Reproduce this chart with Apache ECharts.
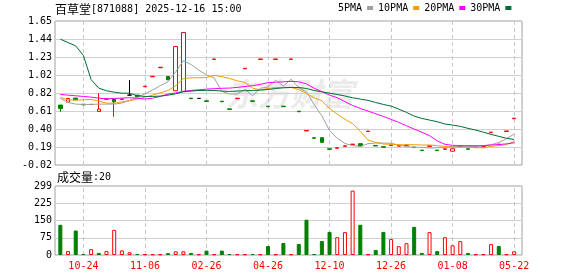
<!DOCTYPE html>
<html><head><meta charset="utf-8">
<script src="https://cdn.jsdelivr.net/npm/echarts/dist/echarts.min.js"></script>
<style>html,body{margin:0;padding:0;background:#fff}#c{width:578px;height:276px}</style>
</head><body><div id="c"></div>
<script>
const stockName = '百草堂';
const stockInfo = '[871088] 2025-12-16 15:00';
const volTitleName = '成交量';
const volTitleValue = ':20';
const watermark = '东方财富';

const xTickIndex = [3, 11, 19, 27, 35, 43, 51, 59];
const xTickLabels = ['10-24', '11-06', '02-26', '04-26', '12-10', '12-26', '01-08', '05-22'];
const priceTickLabels = ['-0.02', '0.19', '0.40', '0.61', '0.82', '1.02', '1.23', '1.44', '1.65'];
const volTickLabels = ['0', '75', '150', '225', '299'];
const maNames = ['5PMA', '10PMA', '20PMA', '30PMA'];

const opens = [0.675,0.709,0.756,0.684,0.682,0.601,0.742,0.744,0.740,0.790,
  0.790,0.888,1.003,1.108,1.006,0.841,0.833,0.755,0.752,0.724,
  1.204,0.720,0.631,0.749,1.096,0.724,1.204,0.662,1.204,0.662,
  1.204,0.604,0.375,0.296,0.297,0.168,0.174,0.197,0.216,0.227,
  0.367,0.207,0.192,0.205,0.198,0.205,0.188,0.153,0.196,0.153,
  0.162,0.140,0.196,0.168,0.190,0.190,0.355,0.222,0.369,0.517];
const closes = [0.636,0.752,0.736,0.678,0.682,0.628,0.748,0.713,0.746,0.790,
  0.771,0.894,1.009,1.114,0.968,1.354,1.516,0.749,0.752,0.718,
  1.210,0.714,0.625,0.755,1.102,0.718,1.210,0.656,1.210,0.656,
  1.210,0.598,0.381,0.290,0.243,0.162,0.180,0.203,0.222,0.200,
  0.373,0.201,0.186,0.211,0.204,0.211,0.182,0.147,0.202,0.147,
  0.168,0.168,0.196,0.162,0.194,0.194,0.361,0.216,0.375,0.523];
const lows = [0.597,0.709,0.736,0.678,0.682,0.601,0.742,0.540,0.740,0.790,
  0.771,0.888,1.003,1.108,0.968,0.841,0.833,0.749,0.752,0.718,
  1.204,0.714,0.625,0.749,1.096,0.718,1.204,0.656,1.204,0.656,
  1.204,0.598,0.375,0.290,0.243,0.162,0.174,0.197,0.216,0.200,
  0.367,0.201,0.186,0.205,0.198,0.205,0.182,0.147,0.196,0.147,
  0.162,0.140,0.196,0.162,0.190,0.190,0.355,0.216,0.369,0.517];
const highs = [0.675,0.752,0.756,0.684,0.682,0.813,0.748,0.744,0.746,0.964,
  0.790,0.894,1.009,1.114,1.006,1.354,1.516,0.755,0.752,0.724,
  1.210,0.720,0.631,0.755,1.102,0.724,1.210,0.662,1.210,0.662,
  1.210,0.604,0.381,0.296,0.297,0.168,0.180,0.203,0.222,0.227,
  0.373,0.207,0.192,0.211,0.204,0.211,0.188,0.153,0.202,0.153,
  0.168,0.168,0.196,0.168,0.194,0.194,0.361,0.222,0.375,0.523];

const volumes = [131,17,106,4,25,9,17,109,20,12,
  4,3,3,3,8,16,16,9,3,19,
  3,19,4,3,3,4,3,39,3,52,
  3,48,153,4,61,100,77,99,279,131,
  3,22,100,69,38,51,122,9,99,17,
  77,42,60,9,3,3,47,39,3,16];
// 1 = rising (red hollow), 0 = falling (green solid)
const volumeUp = [0,1,0,0,1,0,1,1,1,1,
  0,1,1,1,0,1,1,0,1,0,
  1,0,0,1,1,0,1,0,1,0,
  1,0,0,0,0,0,1,1,1,0,
  1,0,0,1,1,1,0,0,1,0,
  1,1,1,0,1,1,1,0,1,1];

const ma5 = [0.752,0.705,0.686,0.682,0.682,0.686,0.686,0.686,0.698,0.730,
  0.765,0.805,0.850,0.900,0.945,1.060,1.190,1.145,1.080,1.025,
  0.990,0.835,0.803,0.803,0.860,0.783,0.870,0.885,0.965,0.895,
  0.975,0.875,0.830,0.680,0.550,0.380,0.290,0.230,0.205,0.196,
  0.227,0.235,0.235,0.231,0.212,0.192,0.185,0.185,0.177,0.181,
  0.185,0.196,0.196,0.196,0.192,0.204,0.215,0.240,0.285,0.339];
const ma10 = [0.763,0.736,0.732,0.736,0.740,0.721,0.698,0.694,0.713,0.725,
  0.744,0.767,0.790,0.817,0.844,0.900,0.983,0.991,0.991,0.995,
  1.020,1.005,0.983,0.956,0.937,0.871,0.852,0.867,0.879,0.879,
  0.879,0.856,0.810,0.760,0.725,0.636,0.570,0.510,0.460,0.370,
  0.270,0.242,0.223,0.219,0.215,0.215,0.215,0.212,0.212,0.204,
  0.196,0.185,0.185,0.185,0.180,0.180,0.196,0.204,0.218,0.252];
const ma20 = [0.798,0.790,0.783,0.775,0.767,0.755,0.748,0.752,0.756,0.760,
  0.755,0.745,0.755,0.775,0.802,0.815,0.835,0.845,0.852,0.860,
  0.865,0.870,0.872,0.880,0.890,0.900,0.915,0.935,0.940,0.945,
  0.950,0.945,0.920,0.870,0.830,0.790,0.760,0.715,0.670,0.636,
  0.605,0.574,0.543,0.509,0.474,0.435,0.397,0.360,0.320,0.260,
  0.220,0.208,0.205,0.204,0.204,0.204,0.212,0.217,0.225,0.238];
const ma30 = [1.439,1.400,1.361,1.250,0.970,0.871,0.841,0.825,0.813,0.813,
  0.783,0.775,0.775,0.779,0.790,0.806,0.829,0.837,0.844,0.846,
  0.844,0.837,0.833,0.837,0.841,0.844,0.848,0.856,0.867,0.875,
  0.879,0.879,0.867,0.844,0.829,0.813,0.798,0.780,0.760,0.744,
  0.729,0.705,0.682,0.663,0.628,0.590,0.547,0.520,0.501,0.482,
  0.455,0.443,0.428,0.405,0.385,0.360,0.335,0.312,0.290,0.276];

const priceMin = -0.02, priceMax = 1.65, priceStep = (priceMax - priceMin) / 8;
const volMax = 299, volStep = volMax / 4;

const categories = opens.map((_, i) => {
  const k = xTickIndex.indexOf(i);
  return k >= 0 ? xTickLabels[k] : 'd' + i;
});

const mono = '"DejaVu Sans Mono", "Liberation Mono", monospace';
const cjk = '"Noto Sans CJK SC", sans-serif';
const maColors = ['#a0a0a0', '#f0a000', '#ff00ff', '#006e30'];
const maData = [ma5, ma10, ma20, ma30];

const frameLeft = 55, frameWidth = 467;
const dataLeft = 56.5, dataWidth = 461.5;
const mainTop = 21, mainHeight = 144;
const volTop = 186, volHeight = 69;

const vLines = {
  silent: true, symbol: ['none', 'none'], z: 1,
  label: { show: false }, emphasis: { disabled: true },
  lineStyle: { type: [4, 3], color: '#c8c8c8', width: 1 },
  data: xTickIndex.map(i => ({ xAxis: categories[i] }))
};

const chart = echarts.init(document.getElementById('c'), null, { renderer: 'canvas' });
chart.setOption({
  animation: false,
  backgroundColor: '#fff',
  title: {
    left: 55, top: 1, padding: 0,
    text: '{c|' + stockName + '}{m|' + stockInfo + '}',
    textStyle: { fontWeight: 'normal', rich: {
      c: { fontFamily: cjk, fontSize: 12, fontWeight: 'normal', color: '#000', lineHeight: 16 },
      m: { fontFamily: mono, fontSize: 10, fontWeight: 'normal', color: '#000', lineHeight: 16 }
    } }
  },
  legend: {
    left: 338, top: 3, padding: 0, align: 'right', icon: 'rect',
    itemWidth: 6, itemHeight: 4, itemGap: 5, selectedMode: false,
    textStyle: { fontFamily: mono, fontSize: 10, color: '#000' },
    data: maNames
  },
  graphic: [
    { type: 'text', left: 226, top: 78, z: 0, silent: true,
      style: { text: watermark, font: 'italic bold 32px "Noto Sans CJK SC"', fill: '#ebebeb' } },
    { type: 'text', left: 57, top: 171, silent: true,
      style: { text: '{c|' + volTitleName + '}{m|' + volTitleValue + '}',
        rich: { c: { fontFamily: cjk, fontSize: 12, fill: '#000' }, m: { fontFamily: mono, fontSize: 10, fill: '#000' } } } }
  ],
  grid: [
    { left: frameLeft, top: mainTop, width: frameWidth, height: mainHeight, show: true, borderColor: '#a0a0a0', borderWidth: 1, backgroundColor: 'transparent' },
    { left: dataLeft, top: mainTop, width: dataWidth, height: mainHeight },
    { left: frameLeft, top: volTop, width: frameWidth, height: volHeight, show: true, borderColor: '#a0a0a0', borderWidth: 1, backgroundColor: 'transparent' },
    { left: dataLeft, top: volTop, width: dataWidth, height: volHeight }
  ],
  xAxis: [
    { gridIndex: 0, type: 'value', min: 0, max: 1, show: false },
    { gridIndex: 1, type: 'category', data: categories, show: false },
    { gridIndex: 2, type: 'value', min: 0, max: 1, show: false },
    { gridIndex: 3, type: 'category', data: categories,
      axisLine: { show: false }, axisTick: { show: false }, splitLine: { show: false },
      axisLabel: { interval: (i) => xTickIndex.includes(i), color: '#ff0000', fontFamily: mono, fontSize: 10, margin: 6 } }
  ],
  yAxis: [
    { gridIndex: 0, type: 'value', min: priceMin, max: priceMax, interval: priceStep,
      axisLine: { show: false }, axisTick: { show: false },
      axisLabel: { margin: 3, fontFamily: mono, fontSize: 10, color: '#000',
        formatter: v => priceTickLabels[Math.round((v - priceMin) / priceStep)] },
      splitLine: { lineStyle: { color: '#d0d0d0', width: 1 } } },
    { gridIndex: 1, type: 'value', min: priceMin, max: priceMax, show: false, splitLine: { show: false } },
    { gridIndex: 2, type: 'value', min: 0, max: volMax, interval: volStep,
      axisLine: { show: false }, axisTick: { show: false },
      axisLabel: { margin: 3, fontFamily: mono, fontSize: 10, color: '#000',
        formatter: v => volTickLabels[Math.round(v / volStep)] },
      splitLine: { lineStyle: { color: '#d0d0d0', width: 1 } } },
    { gridIndex: 3, type: 'value', min: 0, max: volMax, show: false, splitLine: { show: false } }
  ],
  series: [
    { type: 'candlestick', name: 'K', xAxisIndex: 1, yAxisIndex: 1, barWidth: 4, z: 2,
      data: opens.map((o, i) => [o, closes[i], lows[i], highs[i]]),
      itemStyle: { color: '#ffffff', color0: '#008000', borderColor: '#ff0000', borderColor0: '#008000', borderColorDoji: '#000000', borderWidth: 1 },
      markLine: vLines },
    ...maNames.map((n, k) => ({
      type: 'line', name: n, xAxisIndex: 1, yAxisIndex: 1, data: maData[k], z: 3,
      showSymbol: false, symbol: 'none', color: maColors[k],
      lineStyle: { width: 1, color: maColors[k] }
    })),
    { type: 'bar', name: 'VOL', xAxisIndex: 3, yAxisIndex: 3, barWidth: 4, z: 2,
      data: volumes.map((v, i) => ({ value: v,
        itemStyle: volumeUp[i] ? { color: '#ffffff', borderColor: '#ff0000', borderWidth: 1 } : { color: '#008000', borderColor: '#008000', borderWidth: 1 } })),
      markLine: vLines }
  ]
});
</script>
</body></html>
